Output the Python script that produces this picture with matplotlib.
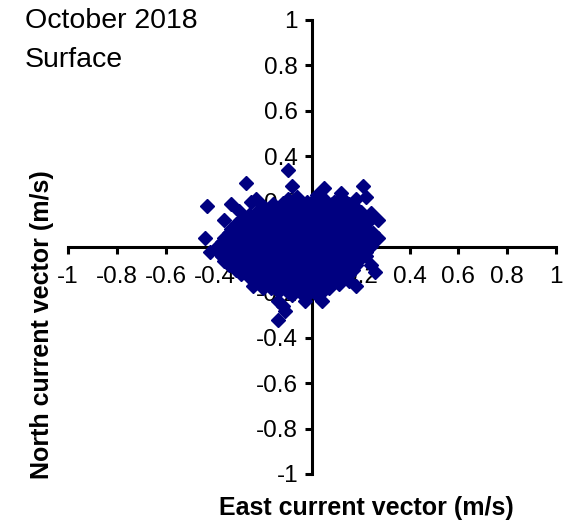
import matplotlib
matplotlib.use('Agg')
import matplotlib.pyplot as plt

# east / north current components (m/s)
east = [
    # dense core, first set of rows
    -0.10, -0.06, -0.02, 0.02, 0.05, 0.09, 0.12,
    -0.20, -0.16, -0.13, -0.09, -0.05, -0.01, 0.03, 0.07, 0.11, 0.15, 0.18,
    -0.26, -0.23, -0.19, -0.15, -0.11, -0.07, -0.03, 0.01, 0.05, 0.09, 0.13, 0.17, 0.20,
    -0.31, -0.27, -0.23, -0.20, -0.16, -0.12, -0.08, -0.04, 0.00, 0.04, 0.08, 0.12, 0.16, 0.20, 0.23,
    -0.34, -0.30, -0.26, -0.22, -0.18, -0.14, -0.10, -0.06, -0.02, 0.02, 0.06, 0.10, 0.14, 0.18, 0.22, 0.25,
    -0.37, -0.33, -0.29, -0.25, -0.21, -0.17, -0.13, -0.09, -0.05, -0.01, 0.03, 0.07, 0.11, 0.15, 0.19, 0.23,
    -0.38, -0.34, -0.30, -0.26, -0.22, -0.18, -0.14, -0.10, -0.06, -0.02, 0.02, 0.06, 0.10, 0.14, 0.18, 0.22,
    -0.36, -0.32, -0.28, -0.24, -0.20, -0.16, -0.12, -0.08, -0.04, 0.00, 0.04, 0.08, 0.12, 0.16, 0.20,
    -0.31, -0.27, -0.23, -0.19, -0.15, -0.11, -0.07, -0.03, 0.01, 0.05, 0.09, 0.13, 0.17,
    -0.25, -0.21, -0.17, -0.13, -0.09, -0.05, -0.01, 0.03, 0.07, 0.11, 0.15,
    -0.17, -0.13, -0.09, -0.05, -0.01, 0.03, 0.07,
    -0.08, -0.03, 0.02,
    # dense core, in-between rows
    -0.12, -0.08, -0.04, 0.00, 0.04, 0.08, 0.11,
    -0.22, -0.18, -0.14, -0.10, -0.06, -0.02, 0.02, 0.06, 0.10, 0.14, 0.17, 0.20,
    -0.29, -0.25, -0.21, -0.17, -0.13, -0.09, -0.05, -0.01, 0.03, 0.07, 0.11, 0.15, 0.19, 0.22,
    -0.33, -0.29, -0.25, -0.21, -0.17, -0.13, -0.09, -0.05, -0.01, 0.03, 0.07, 0.11, 0.15, 0.19, 0.23,
    -0.36, -0.32, -0.28, -0.24, -0.20, -0.16, -0.12, -0.08, -0.04, 0.00, 0.04, 0.08, 0.12, 0.16, 0.20, 0.24,
    -0.39, -0.35, -0.31, -0.27, -0.23, -0.19, -0.15, -0.11, -0.07, -0.03, 0.01, 0.05, 0.09, 0.13, 0.17, 0.21, 0.24,
    -0.37, -0.33, -0.29, -0.25, -0.21, -0.17, -0.13, -0.09, -0.05, -0.01, 0.03, 0.07, 0.11, 0.15, 0.19, 0.22,
    -0.34, -0.30, -0.26, -0.22, -0.18, -0.14, -0.10, -0.06, -0.02, 0.02, 0.06, 0.10, 0.14, 0.18,
    -0.29, -0.25, -0.21, -0.17, -0.13, -0.09, -0.05, -0.01, 0.03, 0.07, 0.11, 0.15,
    -0.21, -0.17, -0.13, -0.09, -0.05, -0.01, 0.03, 0.07, 0.11,
    -0.14, -0.10, -0.06, -0.02, 0.02, 0.05,
    # scattered outliers
    -0.10, -0.27, -0.43, -0.33, -0.23, -0.08, 0.05, 0.12, 0.21, 0.18, 0.27, 0.24,
    0.27, 0.26, 0.24, 0.18, 0.04, -0.03, -0.14, -0.11, -0.14, -0.12, -0.44, -0.38,
    -0.36, -0.42, -0.30, -0.25, -0.37, -0.20, -0.24, 0.22,
]
north = [
    0.21, 0.22, 0.20, 0.23, 0.21, 0.20, 0.22,
    0.18, 0.19, 0.17, 0.18, 0.18, 0.17, 0.18, 0.17, 0.18, 0.19, 0.17,
    0.14, 0.15, 0.14, 0.13, 0.15, 0.14, 0.13, 0.14, 0.15, 0.13, 0.14, 0.15, 0.13,
    0.10, 0.11, 0.10, 0.09, 0.11, 0.10, 0.09, 0.11, 0.10, 0.09, 0.11, 0.10, 0.09, 0.10, 0.11,
    0.06, 0.07, 0.05, 0.06, 0.07, 0.05, 0.06, 0.07, 0.05, 0.06, 0.07, 0.05, 0.06, 0.07, 0.05, 0.06,
    0.02, 0.03, 0.01, 0.02, 0.03, 0.01, 0.02, 0.03, 0.01, 0.02, 0.03, 0.01, 0.02, 0.03, 0.01, 0.02,
    -0.02, -0.01, -0.03, -0.02, -0.01, -0.03, -0.02, -0.01, -0.03, -0.02, -0.01, -0.03, -0.02, -0.01, -0.03, -0.02,
    -0.06, -0.07, -0.05, -0.06, -0.07, -0.05, -0.06, -0.07, -0.05, -0.06, -0.07, -0.05, -0.06, -0.07, -0.05,
    -0.10, -0.11, -0.09, -0.10, -0.11, -0.09, -0.10, -0.11, -0.09, -0.10, -0.11, -0.09, -0.10,
    -0.14, -0.15, -0.13, -0.14, -0.15, -0.13, -0.14, -0.15, -0.13, -0.14, -0.15,
    -0.18, -0.19, -0.17, -0.18, -0.19, -0.17, -0.18,
    -0.21, -0.22, -0.21,
    0.195, 0.20, 0.19, 0.20, 0.195, 0.19, 0.20,
    0.16, 0.155, 0.165, 0.16, 0.155, 0.16, 0.165, 0.16, 0.155, 0.16, 0.165, 0.155,
    0.12, 0.125, 0.115, 0.12, 0.125, 0.12, 0.115, 0.12, 0.125, 0.12, 0.115, 0.12, 0.125, 0.12,
    0.08, 0.085, 0.075, 0.08, 0.085, 0.08, 0.075, 0.08, 0.085, 0.08, 0.075, 0.08, 0.085, 0.08, 0.075,
    0.04, 0.045, 0.035, 0.04, 0.045, 0.04, 0.035, 0.04, 0.045, 0.04, 0.035, 0.04, 0.045, 0.04, 0.035, 0.04,
    0.00, 0.005, -0.005, 0.00, 0.005, 0.00, -0.005, 0.00, 0.005, 0.00, -0.005, 0.00, 0.005, 0.00, -0.005, 0.00, 0.005,
    -0.04, -0.035, -0.045, -0.04, -0.035, -0.04, -0.045, -0.04, -0.035, -0.04, -0.045, -0.04, -0.035, -0.04, -0.045, -0.04,
    -0.08, -0.075, -0.085, -0.08, -0.075, -0.08, -0.085, -0.08, -0.075, -0.08, -0.085, -0.08, -0.075, -0.08,
    -0.12, -0.115, -0.125, -0.12, -0.115, -0.12, -0.125, -0.12, -0.115, -0.12, -0.125, -0.12,
    -0.16, -0.165, -0.155, -0.16, -0.165, -0.16, -0.155, -0.16, -0.165,
    -0.195, -0.20, -0.19, -0.20, -0.195, -0.19,
    0.34, 0.28, 0.18, 0.19, 0.21, 0.27, 0.26, 0.24, 0.27, 0.21, 0.12, 0.15,
    0.04, -0.11, -0.08, -0.17, -0.24, -0.24, -0.24, -0.28, -0.32, -0.26, 0.04, 0.00,
    0.12, -0.02, 0.16, 0.20, -0.04, -0.18, -0.17, 0.22,
]

ticks = [-1, -0.8, -0.6, -0.4, -0.2, 0, 0.2, 0.4, 0.6, 0.8, 1]
tick_labels = ['-1', '-0.8', '-0.6', '-0.4', '-0.2', '0', '0.2', '0.4', '0.6', '0.8', '1']

plt.rcParams['font.family'] = ['Liberation Sans', 'DejaVu Sans']

W, H = 577, 526
fig = plt.figure(figsize=(W / 100, H / 100), dpi=100)
# axes box in pixels: x from 68 to 556, y from 20 to 474
ax = fig.add_axes([68 / W, 1 - 474 / H, (556 - 68) / W, (474 - 20) / H])

ax.plot(east, north, linestyle='none', marker='D', ms=6.8, color='#000080',
        mec='#000080', zorder=3, clip_on=False)

ax.set_xlim(-1, 1)
ax.set_ylim(-1, 1)
for side in ['top', 'right']:
    ax.spines[side].set_visible(False)
for side in ['left', 'bottom']:
    ax.spines[side].set_position(('data', 0))
    ax.spines[side].set_linewidth(2.2)
    ax.spines[side].set_zorder(2)

ax.set_xticks(ticks, tick_labels)
ax.set_yticks(ticks, tick_labels)
ax.tick_params(axis='both', direction='out', length=5, width=2.2,
               labelsize=17.5, colors='black')
ax.tick_params(axis='x', pad=9)
ax.tick_params(axis='y', pad=5)
ax.set_axisbelow(True)

fig.text(25 / W, 1 - 21 / H, 'October 2018', fontsize=20.5, va='center', ha='left')
fig.text(25 / W, 1 - 60 / H, 'Surface', fontsize=20.5, va='center', ha='left')
fig.text(366 / W, 1 - 508 / H, 'East current vector (m/s)', fontsize=18,
         fontweight='bold', ha='center', va='center')
fig.text(42 / W, 1 - 325 / H, 'North current vector (m/s)', fontsize=18,
         fontweight='bold', ha='center', va='center', rotation=90)

fig.savefig('out.png', dpi=100)
